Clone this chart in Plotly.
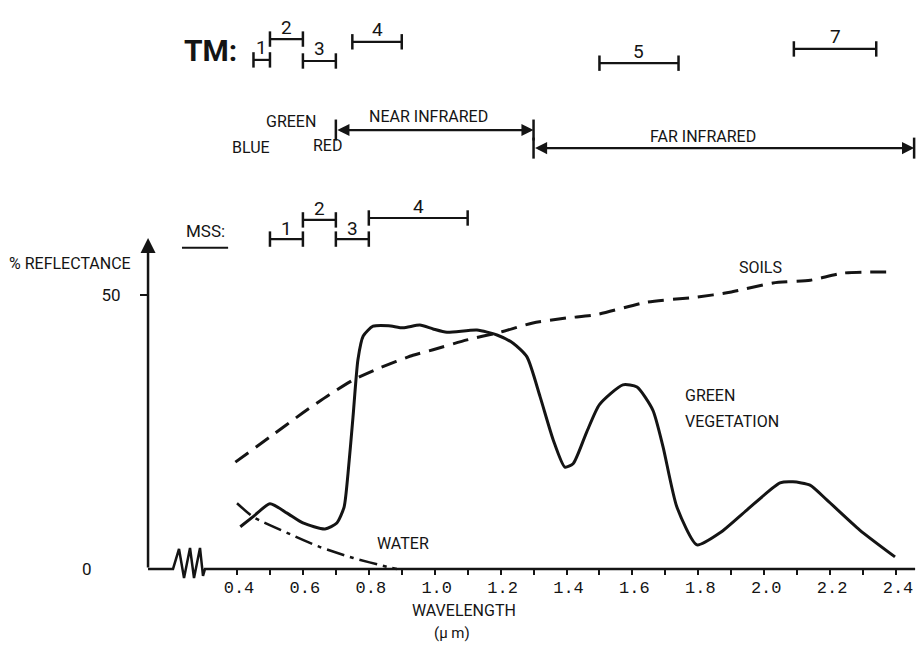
import plotly.graph_objects as go

# ---------------- data ----------------
veg_wl = [0.41, 0.45, 0.50, 0.552, 0.60, 0.667, 0.703, 0.725, 0.737, 0.752, 0.767, 0.783, 0.813,
          0.86, 0.904, 0.955, 0.995, 1.037, 1.128, 1.189, 1.238, 1.28, 1.32, 1.36, 1.395, 1.42,
          1.46, 1.50, 1.571, 1.614, 1.662, 1.693, 1.735, 1.796, 1.866, 1.948, 2.048, 2.087,
          2.139, 2.19, 2.29, 2.397]
veg_pct = [7.7, 9.6, 11.9, 10.2, 8.4, 7.3, 8.4, 11.3, 17.5, 27.7, 38.2, 42.5, 44.3,
           44.4, 44.0, 44.5, 43.8, 43.2, 43.6, 42.7, 41.2, 38.7, 31.4, 23.5, 18.6, 19.2,
           24.8, 30.0, 33.6, 33.2, 29.0, 22.3, 11.3, 4.4, 6.6, 10.8, 15.7, 15.9,
           15.3, 12.6, 7.1, 2.2]

soil_wl = [0.395, 0.50, 0.60, 0.68, 0.753, 0.834, 0.934, 0.995, 1.098, 1.198, 1.298, 1.40,
           1.49, 1.644, 1.795, 1.896, 2.027, 2.14, 2.24, 2.39]
soil_pct = [19.5, 24.1, 28.5, 31.8, 34.5, 36.7, 39.0, 40.0, 41.8, 43.2, 44.9, 45.8,
            46.4, 48.7, 49.6, 50.5, 52.2, 52.7, 54.0, 54.2]

water_wl = [0.40, 0.449, 0.552, 0.652, 0.753, 0.855, 0.885]
water_pct = [12.0, 9.5, 6.6, 4.0, 2.0, 0.4, 0.0]

x_tick_vals = [round(0.4 + 0.1 * i, 1) for i in range(21)]
x_label_vals = [round(0.4 + 0.2 * i, 1) for i in range(11)]
x_label_text = ["%.1f" % v for v in x_label_vals]

tm_names = ["1", "2", "3", "4", "5", "7"]
tm_lo = [0.45, 0.50, 0.60, 0.75, 1.50, 2.09]
tm_hi = [0.50, 0.60, 0.70, 0.90, 1.74, 2.34]

mss_names = ["1", "2", "3", "4"]
mss_lo = [0.50, 0.60, 0.70, 0.80]
mss_hi = [0.60, 0.70, 0.80, 1.10]

region_names = ["NEAR INFRARED", "FAR INFRARED"]
region_lo = [0.70, 1.30]
region_hi = [1.30, 2.455]

# ---------------- layout helpers (positions / styles) ----------------
tm_level = [92.9, 96.7, 92.7, 96.2, 92.3, 94.9]
mss_level = [60.2, 63.7, 60.2, 64.05]
region_level = [80.1, 76.8]
region_label = [(0.98, 82.6), (1.814, 78.9)]

INK = "#141414"
NARROW = "Roboto, Liberation Sans, sans-serif"
MONO = "Liberation Mono, DejaVu Sans Mono, monospace"

def nfont(size, weight="normal"):
    return dict(family=NARROW, size=size, color=INK, weight=weight)

fig = go.Figure()

fig.add_trace(go.Scatter(x=veg_wl, y=veg_pct, mode="lines",
                         line=dict(color=INK, width=3, shape="spline", smoothing=0.6),
                         hoverinfo="skip", showlegend=False))
fig.add_trace(go.Scatter(x=soil_wl, y=soil_pct, mode="lines",
                         line=dict(color=INK, width=3, dash="16px,9px", shape="spline", smoothing=0.6),
                         hoverinfo="skip", showlegend=False))
fig.add_trace(go.Scatter(x=water_wl, y=water_pct, mode="lines",
                         line=dict(color=INK, width=2.5, dash="18px,6px,4px,6px", shape="spline", smoothing=0.6),
                         hoverinfo="skip", showlegend=False))

annotations = []

def band_bars(names, lo, hi, levels, shift, fsize):
    for n, a, b, lv in zip(names, lo, hi, levels):
        fig.add_trace(go.Scatter(x=[a, b], y=[lv, lv], mode="lines+markers",
                                 line=dict(color=INK, width=2.2),
                                 marker=dict(symbol="line-ns-open", size=11, color=INK,
                                             line=dict(color=INK, width=2.5)),
                                 hoverinfo="skip", showlegend=False))
        annotations.append(dict(x=(a + b) / 2, y=lv, text=n, showarrow=False,
                                yshift=shift, font=nfont(fsize)))

band_bars(tm_names, tm_lo, tm_hi, tm_level, 12, 19)
band_bars(mss_names, mss_lo, mss_hi, mss_level, 11, 19)

# spectral region arrows
for name, a, b, lv, (lx, ly) in zip(region_names, region_lo, region_hi, region_level, region_label):
    annotations.append(dict(x=b, y=lv, ax=a, ay=lv, xref="x", yref="y", axref="x", ayref="y",
                            text="", showarrow=True, arrowside="end+start", arrowhead=2,
                            arrowsize=1.1, arrowwidth=2.2, arrowcolor=INK))
    fig.add_trace(go.Scatter(x=[a, b], y=[lv, lv], mode="markers",
                             marker=dict(symbol="line-ns-open", size=15, color=INK,
                                         line=dict(color=INK, width=2.5)),
                             hoverinfo="skip", showlegend=False))
    annotations.append(dict(x=lx, y=ly, text=name, showarrow=False, font=nfont(16)))

def txt(x, y, s, size=16, xanchor="center", bold=False):
    f = nfont(size, "bold" if bold else "normal")
    annotations.append(dict(x=x, y=y, text=s, showarrow=False, xanchor=xanchor, font=f))

txt(0.4425, 77.0, "BLUE")
txt(0.564, 81.75, "GREEN")
txt(0.676, 77.2, "RED")
txt(0.321, 94.7, "TM:", size=30, bold=True)
txt(0.303, 61.6, "MSS:", size=17)
txt(1.99, 55.1, "SOILS")
txt(1.7536, 31.6, "GREEN", xanchor="left")
txt(1.7536, 27.0, "VEGETATION", xanchor="left")
txt(0.904, 4.7, "WATER")
txt(-0.107, 55.7, "% REFLECTANCE")
txt(-0.055, 0.0, "0", size=17)
txt(1.089, -7.66, "WAVELENGTH")
txt(1.0525, -11.6, "(μ m)", size=15)

# y axis with arrow
annotations.append(dict(x=0.13, y=60.4, ax=0.13, ay=0, xref="x", yref="y", axref="x", ayref="y",
                        text="", showarrow=True, arrowhead=2, arrowsize=1.2,
                        arrowwidth=2.5, arrowcolor=INK))

shapes = []
# MSS underline
shapes.append(dict(type="line", x0=0.233, x1=0.373, y0=58.6, y1=58.6, xref="x", yref="y",
                   line=dict(color=INK, width=2)))
# x axis baseline with the axis-break zigzag
zig = [(0.13, 0), (0.2058, 0), (0.224, 3.65), (0.2392, -1.64), (0.2574, 3.83), (0.2695, -1.64),
       (0.2877, 3.83), (0.2968, -1.28), (0.3029, 0), (2.458, 0)]
path = "M " + " L ".join("%g,%g" % p for p in zig)
shapes.append(dict(type="path", path=path, xref="x", yref="y", line=dict(color=INK, width=2.5)))

XR = [-0.3193, 2.4698]
fig.update_layout(
    width=919, height=648, margin=dict(l=0, r=0, t=0, b=0),
    paper_bgcolor="white", plot_bgcolor="white",
    annotations=annotations, shapes=shapes, showlegend=False,
    # tick marks on the baseline
    xaxis=dict(range=XR, anchor="free", position=79 / 648,
               showgrid=False, zeroline=False, showline=False,
               tickmode="array", tickvals=x_tick_vals, showticklabels=False,
               ticks="outside", ticklen=5, tickwidth=2, tickcolor=INK),
    # tick labels of the wavelength axis
    xaxis2=dict(range=XR, overlaying="x", matches="x", anchor="free", position=73 / 648,
                side="bottom", showgrid=False, zeroline=False, showline=False,
                tickmode="array", tickvals=x_label_vals, ticktext=x_label_text,
                ticks="", ticklabelstandoff=0, ticklabelshift=2,
                tickfont=dict(family=MONO, size=17, color=INK)),
    yaxis=dict(range=[-14.42, 103.83], anchor="free", position=148 / 919,
               showgrid=False, zeroline=False, showline=False,
               tickmode="array", tickvals=[50], ticktext=["50"],
               ticks="outside", ticklen=8, tickwidth=2, tickcolor=INK,
               ticklabelstandoff=16, tickfont=nfont(17)),
)
# an invisible trace so the label axis is drawn
fig.add_trace(go.Scatter(x=[x_label_vals[0]], y=[0], xaxis="x2", mode="markers",
                         marker=dict(size=1, opacity=0), hoverinfo="skip", showlegend=False))

fig.write_html("out.html", config={"displayModeBar": False},
               post_script="document.body.style.margin='0';")
